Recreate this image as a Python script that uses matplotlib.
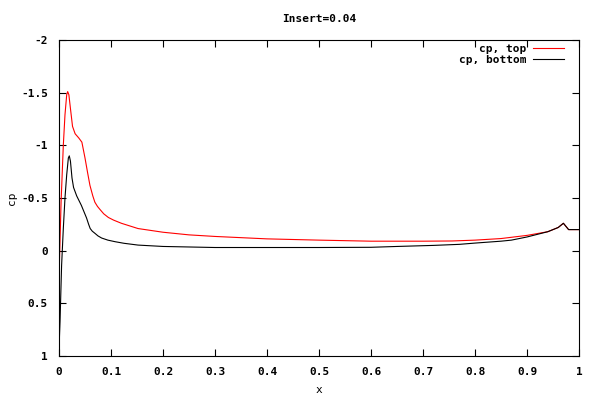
import matplotlib
matplotlib.use('Agg')
import matplotlib.pyplot as plt

# cp along the top surface
x_top = [0.0, 0.0005, 0.004, 0.0083, 0.0115, 0.0148, 0.0167, 0.019,
         0.022, 0.026, 0.031, 0.038, 0.044, 0.05, 0.055, 0.0595, 0.065, 0.069,
         0.074, 0.079, 0.086, 0.095, 0.105, 0.12, 0.152, 0.2, 0.25, 0.3, 0.4, 0.5,
         0.6, 0.7, 0.756, 0.8, 0.85, 0.9, 0.94, 0.96, 0.97, 0.98, 1.0]
cp_top = [0.62, 0.17, -0.46, -1.0, -1.29, -1.48, -1.51, -1.48,
          -1.35, -1.18, -1.11, -1.07, -1.03, -0.88, -0.74, -0.62, -0.52, -0.46,
          -0.42, -0.39, -0.35, -0.315, -0.29, -0.26, -0.21, -0.175, -0.15, -0.135, -0.112, -0.1,
          -0.09, -0.09, -0.092, -0.1, -0.115, -0.145, -0.18, -0.22, -0.26, -0.2, -0.2]

# cp along the bottom surface
x_bot = [0.0, 0.001, 0.002, 0.005, 0.0083, 0.0115, 0.0148, 0.018, 0.0198, 0.022,
         0.025, 0.028, 0.034, 0.043, 0.053, 0.057, 0.06, 0.064, 0.069, 0.075,
         0.082, 0.094, 0.108, 0.125, 0.152, 0.2, 0.3, 0.4, 0.5, 0.6, 0.65, 0.72,
         0.77, 0.8, 0.85, 0.87, 0.9, 0.94, 0.96, 0.97, 0.98, 1.0]
cp_bot = [0.95, 0.8, 0.67, 0.14, -0.21, -0.5, -0.72, -0.88, -0.9, -0.85,
          -0.69, -0.6, -0.52, -0.43, -0.31, -0.25, -0.21, -0.185, -0.165, -0.14,
          -0.12, -0.1, -0.085, -0.07, -0.053, -0.04, -0.03, -0.03, -0.03, -0.032, -0.04, -0.05,
          -0.06, -0.072, -0.09, -0.1, -0.13, -0.18, -0.22, -0.26, -0.2, -0.2]

x_ticks = [0, 0.1, 0.2, 0.3, 0.4, 0.5, 0.6, 0.7, 0.8, 0.9, 1]
x_labels = ['0', '0.1', '0.2', '0.3', '0.4', '0.5', '0.6', '0.7', '0.8', '0.9', '1']
y_ticks = [-2, -1.5, -1, -0.5, 0, 0.5, 1]
y_labels = ['-2', '-1.5', '-1', '-0.5', '0', '0.5', '1']

plt.rcParams['font.family'] = 'DejaVu Sans Mono'
plt.rcParams['font.weight'] = 'bold'
plt.rcParams['font.size'] = 8

fig = plt.figure(figsize=(6, 4), dpi=100)
ax = fig.add_axes([59 / 600, 44 / 400, 520 / 600, 316 / 400])

ax.plot(x_top, cp_top, color='red', linewidth=0.8, label='cp, top')
ax.plot(x_bot, cp_bot, color='black', linewidth=0.8, label='cp, bottom')

ax.set_xlim(0, 1)
ax.set_ylim(1, -2)
ax.set_xticks(x_ticks)
ax.set_xticklabels(x_labels)
ax.set_yticks(y_ticks)
ax.set_yticklabels(y_labels)
ax.tick_params(direction='in', top=True, right=True, length=5, width=0.8, pad=8)
for s in ax.spines.values():
    s.set_linewidth(0.8)

ax.set_xlabel('x', labelpad=6)
ax.set_ylabel('cp', labelpad=3)
ax.set_title('Insert=0.04', pad=13, fontsize=8, fontweight='bold')

ax.legend(loc='upper right', bbox_to_anchor=(0.9865, 1.013), frameon=False,
          markerfirst=False, handlelength=2.8, handletextpad=0.6,
          labelspacing=0.1, borderaxespad=0.3)

fig.savefig('out.png', dpi=100)
